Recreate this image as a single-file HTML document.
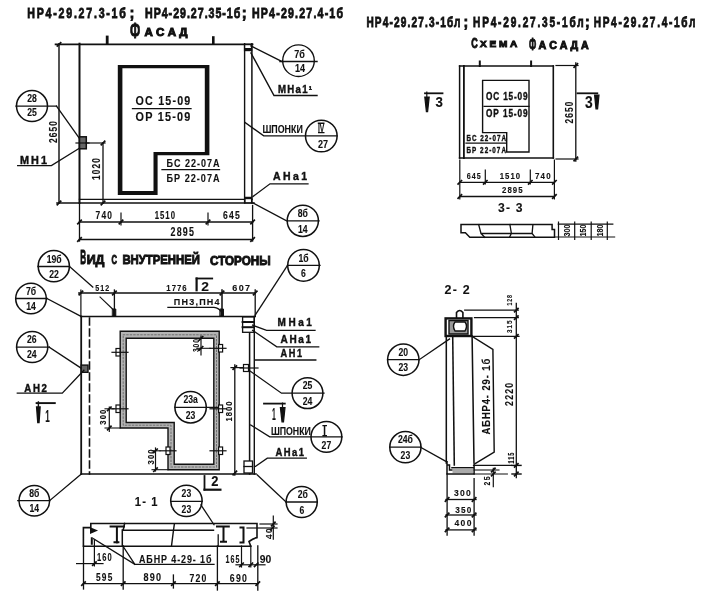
<!DOCTYPE html>
<html><head><meta charset="utf-8">
<style>
html,body{margin:0;padding:0;background:#fff;}
body{width:708px;height:593px;overflow:hidden;}
svg{display:block;will-change:transform;}
text{font-family:"Liberation Sans",sans-serif;font-weight:bold;fill:#111;stroke:#111;stroke-width:0.12px;}
.t{font-size:12px;}
.h{stroke-width:0.95px;}
.h2{stroke-width:0.8px;}
.h3{stroke-width:0.4px;}
</style></head><body>
<svg width="708" height="593" viewBox="0 0 708 593">
<rect width="708" height="593" fill="#fff"/>
<g stroke="#111" fill="none" stroke-linecap="square">
<!-- ================= FACADE (top-left) ================= -->
<g id="facade">
<line x1="55.6" y1="44.4" x2="252.5" y2="44.4" stroke-width="1.8"/>
<line x1="79.5" y1="43.7" x2="79.5" y2="203" stroke-width="2.0"/>
<line x1="244.6" y1="43.7" x2="244.6" y2="203" stroke-width="1.4"/>
<line x1="251.9" y1="43.7" x2="251.9" y2="203" stroke-width="1.5"/>
<line x1="57" y1="203" x2="254" y2="203" stroke-width="1.6"/>
<line x1="79.5" y1="199.4" x2="252" y2="199.4" stroke-width="1.43"/>
<rect x="244.6" y="44.5" width="7" height="6" fill="#fff" stroke-width="1.4"/><rect x="244.3" y="48" width="7.6" height="2.6" fill="#111" stroke="none"/>
<rect x="245" y="197.6" width="6.6" height="5.2" fill="#fff" stroke-width="1.3"/><rect x="244.5" y="196.8" width="7.6" height="2.4" fill="#111" stroke="none"/>
<!-- left dim 2650 -->
<line x1="59" y1="43.7" x2="59" y2="203" stroke-width="1.43"/>


<!-- top ticks -->
<line x1="107.2" y1="37" x2="107.2" y2="43.5" stroke-width="2.8"/>
<line x1="213.3" y1="37.5" x2="213.3" y2="43.5" stroke-width="2.6"/>
<!-- MH1 plate left -->
<rect x="79.5" y="136.8" width="6.8" height="12" fill="#666" stroke-width="1.5"/>
<line x1="76" y1="143" x2="89" y2="143" stroke-width="1.2"/>
<!-- dim 1020 -->
<line x1="86" y1="143" x2="105" y2="143" stroke-width="1.2"/>
<line x1="103" y1="143" x2="103" y2="203" stroke-width="1.31"/>

<!-- window -->
<path d="M117.8,65.1 H209.4 V155.2 H157.6 V195.1 H117.8 Z M122.4,68.2 H204.8 V152.1 H153.5 V191.1 H122.4 Z" fill="#111" fill-rule="evenodd" stroke="none"/>

<line x1="132.5" y1="108.6" x2="191" y2="108.6" stroke-width="1.3"/>
<line x1="162" y1="169.7" x2="219.5" y2="169.7" stroke-width="1.3"/>
<!-- bottom dims -->
<line x1="79.5" y1="203" x2="79.5" y2="241" stroke-width="1.31"/>
<line x1="252.6" y1="205.5" x2="252.6" y2="241" stroke-width="1.31"/>
<line x1="121" y1="213" x2="121" y2="225" stroke-width="1.2"/>
<line x1="208" y1="213" x2="208" y2="225" stroke-width="1.2"/>
<line x1="79.5" y1="222" x2="252.6" y2="222" stroke-width="1.43"/>
<line x1="79.5" y1="239.5" x2="252.6" y2="239.5" stroke-width="1.54"/>
<!-- callouts -->
<circle cx="32" cy="106.1" r="15.5" stroke-width="1.54"/>
<line x1="16" y1="106.1" x2="56.5" y2="106.1" stroke-width="1.31"/>
<polyline points="56.5,106.1 79.2,138" stroke-width="1.31"/>
<polyline points="17.7,165.6 51.4,165.6 79.2,148.3" stroke-width="1.31"/>
<circle cx="298.5" cy="60.7" r="15.8" stroke-width="1.4"/>
<line x1="280" y1="61.5" x2="317" y2="61.5" stroke-width="1.43"/>
<line x1="251" y1="46" x2="282" y2="61.5" stroke-width="1.43"/>
<polyline points="251,53 274,95.5 317,95.5" stroke-width="1.43"/>
<circle cx="321.3" cy="136" r="15.8" stroke-width="1.54"/>
<polyline points="244.8,122.4 263.7,135.8 337,135.8" stroke-width="1.31"/>
<polyline points="308,183.8 270,183.8 253,196.5" stroke-width="1.31"/>
<circle cx="302.8" cy="220.8" r="15.6" stroke-width="1.54"/>
<polyline points="253,203 286.6,220.8 319,220.8" stroke-width="1.31"/>
</g>
</g>
<!-- texts facade -->
<g>
<text class="h2" transform="translate(27.3,18.3) scale(0.72,1)" font-size="14.8" textLength="136.9" lengthAdjust="spacing">НР4-29.27.3-1б</text><text class="h2" x="129.4" y="18.3" font-size="14.8">;</text><text class="h2" transform="translate(145,18.3) scale(0.72,1)" font-size="14.8" textLength="132.4" lengthAdjust="spacing">НР4-29.27.35-1б</text><text class="h2" x="241.7" y="18.3" font-size="14.8">;</text><text class="h2" transform="translate(252,18.3) scale(0.72,1)" font-size="14.8" textLength="126.4" lengthAdjust="spacing">НР4-29.27.4-1б</text>
<text class="h" x="130" y="38.3" font-size="22" textLength="10.2" lengthAdjust="spacingAndGlyphs">Ф</text><text class="h" x="144.6" y="36.1" font-size="10.5" textLength="42.8" lengthAdjust="spacingAndGlyphs">А С А Д</text>
<text transform="translate(57,132) rotate(-90) scale(0.840,1)" text-anchor="middle" font-size="10" textLength="26.2" lengthAdjust="spacing">2650</text>
<text transform="translate(100.4,169) rotate(-90) scale(0.840,1)" text-anchor="middle" font-size="10" textLength="26.2" lengthAdjust="spacing">1020</text>
<text transform="translate(135.6,104.7) scale(0.894,1)" font-size="12" textLength="61.2" lengthAdjust="spacing">ОС 15-09</text>
<text transform="translate(135.6,121.2) scale(0.905,1)" font-size="12" textLength="60.4" lengthAdjust="spacing">ОР 15-09</text>
<text transform="translate(166.6,166.7) scale(0.820,1)" font-size="11" textLength="64.5" lengthAdjust="spacing">БС 22-07А</text>
<text transform="translate(166.6,182) scale(0.827,1)" font-size="11" textLength="64.0" lengthAdjust="spacing">БР 22-07А</text>
<text transform="translate(95.5,218.8) scale(0.840,1)" font-size="10" textLength="19.6" lengthAdjust="spacing">740</text>
<text transform="translate(154.7,218.8) scale(0.776,1)" font-size="10" textLength="26.2" lengthAdjust="spacing">1510</text>
<text transform="translate(222.9,219) scale(0.861,1)" font-size="10" textLength="19.6" lengthAdjust="spacing">645</text>
<text transform="translate(170.6,236) scale(0.742,1)" font-size="12" textLength="31.4" lengthAdjust="spacing">2895</text>
<text transform="translate(32,101.9) scale(0.8,1)" text-anchor="middle" font-size="10.8">28</text>
<text transform="translate(32,116.2) scale(0.8,1)" text-anchor="middle" font-size="10.8">25</text>
<text class="h3" transform="translate(20,164.3) scale(0.988,1)" font-size="11" textLength="27.3" lengthAdjust="spacing">МН1</text>
<text transform="translate(299.5,57.7) scale(0.8,1)" text-anchor="middle" font-size="11.3">7б</text>
<text transform="translate(300,72.4) scale(0.8,1)" text-anchor="middle" font-size="11.3">14</text>
<text class="h3" transform="translate(278,93) scale(0.963,1)" font-size="10" textLength="35.3" lengthAdjust="spacing">МНа1¹</text>
<text x="262.4" y="132.6" font-size="10.5" textLength="40.4" lengthAdjust="spacingAndGlyphs">ШПОНКИ</text>
<text x="321.1" y="131.8" text-anchor="middle" font-size="11.5" textLength="6.4" lengthAdjust="spacingAndGlyphs">IV</text><path d="M317.8,123.2 H324.5 M318,132.6 H324.5" stroke="#111" stroke-width="1.4"/>
<text transform="translate(323,147.5) scale(0.8,1)" text-anchor="middle" font-size="11.3">27</text>
<text class="h3" transform="translate(273,180) scale(1.000,1)" font-size="10.5" textLength="34.0" lengthAdjust="spacing">АНа1</text>
<text transform="translate(302.8,217) scale(0.8,1)" text-anchor="middle" font-size="10.8">8б</text>
<text transform="translate(302.8,232.5) scale(0.8,1)" text-anchor="middle" font-size="10.8">14</text>
</g>

<!-- ================= SCHEMA (top-right) ================= -->
<g stroke="#111" fill="none" stroke-linecap="square">
<line x1="459.6" y1="66" x2="553.3" y2="66" stroke-width="1.5"/>
<line x1="459.6" y1="66" x2="459.6" y2="158" stroke-width="1.5"/>
<line x1="463.9" y1="66" x2="463.9" y2="158" stroke-width="1.8"/>
<line x1="553.3" y1="66" x2="553.3" y2="158" stroke-width="1.6"/>
<line x1="459.6" y1="158" x2="553.3" y2="158" stroke-width="1.6"/>
<line x1="479.8" y1="61.5" x2="479.8" y2="66" stroke-width="2.0"/>
<line x1="531.1" y1="61.5" x2="531.1" y2="66" stroke-width="2.0"/>
<path d="M482.6,80.4 H529 V152 H506.7 V132.6 H482.6 Z" stroke-width="1.4"/>
<line x1="484" y1="106.4" x2="529" y2="106.4" stroke-width="1.2"/>
<line x1="466" y1="143.2" x2="506" y2="143.2" stroke-width="1.2"/>
<!-- right dim 2650 -->
<line x1="556" y1="65.5" x2="578" y2="65.5" stroke-width="1.2"/>
<line x1="556" y1="159" x2="578" y2="159" stroke-width="1.2"/>
<line x1="575.8" y1="63" x2="575.8" y2="161" stroke-width="1.31"/>
<!-- section marks 3 -->
<path d="M425,93.3 H442.5" stroke-width="1.8"/>
<path d="M426.8,92 V96 M424.8,97 L429.2,97 L427.6,111.6 L426.4,111.6 Z" stroke-width="1.2" fill="#111"/>
<path d="M577.5,93.3 H597.3" stroke-width="1.8"/>
<path d="M594.6,95 L599,95 L597.6,108.8 L596,108.8 Z" stroke-width="1.2" fill="#111"/>
<!-- bottom dims -->
<line x1="459.8" y1="160" x2="459.8" y2="199" stroke-width="1.2"/>
<line x1="554.4" y1="160" x2="554.4" y2="199" stroke-width="1.2"/>
<line x1="485.3" y1="170" x2="485.3" y2="184" stroke-width="1.2"/>
<line x1="530.3" y1="170" x2="530.3" y2="184" stroke-width="1.2"/>
<line x1="459.8" y1="182.3" x2="554.4" y2="182.3" stroke-width="1.31"/>
<line x1="459.8" y1="196.5" x2="554.4" y2="196.5" stroke-width="1.31"/>
<!-- section 3-3 profile -->
<path d="M461,224.6 H552.1 V229.5 H554.5 V237.2 H469.8 L465.4,232.8 H461 Z" stroke-width="1.5"/>
<path d="M478.7,224.6 L481,233.5 H532.1 L532.9,224.6 M509.9,224.6 L511.4,233.5 M481,233.5 L484.7,237.2 M511.4,233.5 L509.5,237.2 M532.1,233.5 L535,237.2" stroke-width="1.31"/>
<path d="M558.2,224.2 H612.8 M555,237 H614.6 M558.5,222 V239.5 M574.7,222 V239.5 M591.2,222 V239.5 M607.3,222 V239.5" stroke-width="1.2"/>
</g><g font-size="8.5">
<text transform="translate(569.5,230.6) rotate(-90)" text-anchor="middle" textLength="12" lengthAdjust="spacingAndGlyphs">300</text>
<text transform="translate(586,230.6) rotate(-90)" text-anchor="middle" textLength="12" lengthAdjust="spacingAndGlyphs">150</text>
<text transform="translate(602.5,230.6) rotate(-90)" text-anchor="middle" textLength="12" lengthAdjust="spacingAndGlyphs">180</text>
</g>
<g>
<text class="h2" transform="translate(366.4,27.2) scale(0.72,1)" font-size="14" textLength="130.6" lengthAdjust="spacing">НР4-29.27.3-1бл</text><text class="h2" x="463.5" y="27.2" font-size="14">;</text><text class="h2" transform="translate(473.1,27.2) scale(0.72,1)" font-size="14" textLength="153.5" lengthAdjust="spacing">НР4-29.27.35-1бл</text><text class="h2" x="584.9" y="27.2" font-size="14">;</text><text class="h2" transform="translate(593.7,27.2) scale(0.72,1)" font-size="14" textLength="141.2" lengthAdjust="spacing">НР4-29.27.4-1бл</text>
<text class="h" x="471.3" y="47.6" font-size="14.5" textLength="6.5" lengthAdjust="spacingAndGlyphs">С</text><text class="h" x="480" y="46.9" font-size="9" textLength="37.3" lengthAdjust="spacingAndGlyphs">Х Е М А</text><text class="h" x="529" y="49.8" font-size="17" textLength="7.2" lengthAdjust="spacingAndGlyphs">Ф</text><text class="h" x="538.6" y="49.2" font-size="11" textLength="50" lengthAdjust="spacingAndGlyphs">А С А Д А</text>
<text class="h3" transform="translate(486,99.8) scale(0.8,1)" font-size="10.3" textLength="52" lengthAdjust="spacing">ОС 15-09</text>
<text class="h3" transform="translate(486,117) scale(0.8,1)" font-size="10.3" textLength="52" lengthAdjust="spacing">ОР 15-09</text>
<text class="h3" transform="translate(466.5,140.6) scale(0.7,1)" font-size="9" textLength="56.4" lengthAdjust="spacing">БС 22-07А</text>
<text class="h3" transform="translate(466.5,152.8) scale(0.7,1)" font-size="9" textLength="56.4" lengthAdjust="spacing">БР 22-07А</text>
<text transform="translate(572.8,112.6) rotate(-90) scale(0.840,1)" text-anchor="middle" font-size="10" textLength="26.2" lengthAdjust="spacing">2650</text>
<text x="435.6" y="106.8" font-size="14" textLength="7.4" lengthAdjust="spacingAndGlyphs">3</text>
<text x="585" y="108.3" font-size="16" textLength="7.7" lengthAdjust="spacingAndGlyphs">3</text>
<text transform="translate(466.7,178.5) scale(0.839,1)" font-size="8.5" textLength="16.7" lengthAdjust="spacing">645</text>
<text transform="translate(499.7,178.5) scale(0.912,1)" font-size="8.5" textLength="22.3" lengthAdjust="spacing">1510</text>
<text transform="translate(535,178.5) scale(0.935,1)" font-size="8.5" textLength="16.7" lengthAdjust="spacing">740</text>
<text transform="translate(502,192.7) scale(0.874,1)" font-size="9" textLength="23.6" lengthAdjust="spacing">2895</text>
<text transform="translate(498,212.3) scale(0.933,1)" font-size="13" textLength="26.4" lengthAdjust="spacing">3- 3</text>
</g>

<!-- ================= INNER VIEW (bottom-left) ================= -->
<g stroke="#111" fill="none" stroke-linecap="square">
<!-- panel -->
<line x1="80.9" y1="316.5" x2="255.2" y2="316.5" stroke-width="1.6"/>
<line x1="81.2" y1="316.5" x2="81.2" y2="474" stroke-width="1.8"/>
<line x1="89.5" y1="318" x2="89.5" y2="474" stroke-width="1.6" stroke-dasharray="7,4"/>
<line x1="249.6" y1="332" x2="249.6" y2="474" stroke-width="1.54"/>
<line x1="254.3" y1="316.5" x2="254.3" y2="474" stroke-width="1.4"/>
<line x1="81.2" y1="474" x2="256" y2="474" stroke-width="1.6"/>
<!-- top dims -->
<line x1="78.8" y1="293" x2="255.2" y2="293" stroke-width="1.31"/>
<line x1="80.9" y1="290" x2="80.9" y2="316" stroke-width="1.2"/>
<line x1="114.4" y1="290" x2="114.4" y2="316" stroke-width="1.31"/>
<line x1="222" y1="290" x2="222" y2="316" stroke-width="1.54"/>
<line x1="255.2" y1="290" x2="255.2" y2="316" stroke-width="1.31"/>
<path d="M112.8,309 H115.8 V316 H112.8 Z" fill="#111" stroke-width="0.97"/>
<path d="M220.3,309 H223.5 V316 H220.3 Z" fill="#111" stroke-width="0.97"/>
<path d="M100.1,297.1 L113.7,310.1" stroke-width="1.2"/>
<path d="M167.9,307.3 H214 Q219,308 221.5,312" stroke-width="1.2"/>
<!-- section 2 top -->
<path d="M196.6,290.2 V278.5" stroke-width="2.2"/><path d="M196.6,278.5 H212.2" stroke-width="1.8"/>

<!-- window frame hatched -->
<path d="M120.2,331.3 H219.2 V469.7 H168 V428 H120.2 Z M126.2,338.3 H213.8 V464.3 H174.2 V422.5 H126.2 Z" fill="#b4b4b4" fill-rule="evenodd" stroke="none"/>
<path d="M120.2,331.3 H219.2 V469.7 H168 V428 H120.2 Z" stroke-width="1.4"/>
<path d="M126.2,338.3 H213.8 V464.3 H174.2 V422.5 H126.2 Z" stroke-width="1.4"/>
<path d="M123.2,334.8 H216.5 V467 H171 V425.2 H123.2 Z" stroke-width="0.9" stroke="#666" stroke-dasharray="1.5,2"/>
<!-- bolts -->
<g stroke-width="1.2">
<rect x="116" y="348.5" width="4" height="7.5" fill="#fff"/><line x1="112" y1="352.3" x2="128" y2="352.3"/>
<rect x="116" y="405" width="4" height="7.5" fill="#fff"/><line x1="112" y1="408.8" x2="128" y2="408.8"/>
<rect x="218.6" y="344.5" width="4" height="7.5" fill="#fff"/><line x1="210" y1="348.3" x2="226" y2="348.3"/>
<rect x="218.6" y="405" width="4" height="7.5" fill="#fff"/><line x1="210" y1="408.8" x2="226" y2="408.8"/>
<rect x="218.6" y="447" width="4" height="7.5" fill="#fff"/><line x1="210" y1="450.8" x2="226" y2="450.8"/>
<rect x="166" y="447" width="4" height="7.5" fill="#fff"/><line x1="160" y1="450.8" x2="176" y2="450.8"/>
</g>
<!-- 300 dims -->
<line x1="109.3" y1="407.2" x2="109.3" y2="431.4" stroke-width="1.2"/>
<line x1="105" y1="408.8" x2="114" y2="408.8" stroke-width="1.08"/>
<line x1="105" y1="428" x2="120" y2="428" stroke-width="1.08"/>
<line x1="155.5" y1="448" x2="155.5" y2="471" stroke-width="1.2"/>
<line x1="152" y1="450.8" x2="160" y2="450.8" stroke-width="1.08"/>
<line x1="152" y1="469.7" x2="168" y2="469.7" stroke-width="1.08"/>
<line x1="201" y1="336" x2="201" y2="355" stroke-width="1.2"/>
<line x1="197" y1="348.3" x2="210" y2="348.3" stroke-width="1.08"/>
<!-- 1800 dim -->
<line x1="234.8" y1="365" x2="234.8" y2="475" stroke-width="1.31"/>
<line x1="231" y1="367.6" x2="246" y2="367.6" stroke-width="1.2"/>
<!-- right bolts/plates -->
<rect x="243.5" y="364.5" width="5" height="7" fill="#fff" stroke-width="1.2"/>
<line x1="240" y1="368" x2="258" y2="368" stroke-width="1.2"/>
<g stroke-width="1.31">
<rect x="242.6" y="317" width="11.4" height="15.3" fill="#fff"/>
<line x1="242.6" y1="322" x2="254" y2="322" stroke-width="2"/>
<line x1="242.6" y1="327.2" x2="254" y2="327.2" stroke-width="2"/>
<rect x="244" y="461" width="8.5" height="12" fill="#fff"/>
<line x1="244" y1="466.5" x2="252.5" y2="466.5"/>
</g>
<!-- left plate AH2 -->
<rect x="81.2" y="365.1" width="6.8" height="7.2" fill="#666" stroke-width="1.4"/>
<!-- callouts -->
<circle cx="53.8" cy="266.2" r="15.6" stroke-width="1.54"/>
<line x1="38" y1="266.5" x2="69.5" y2="266.5" stroke-width="1.31"/>
<line x1="69.5" y1="266.5" x2="92.8" y2="287" stroke-width="1.31"/>
<circle cx="31" cy="298.5" r="15.3" stroke-width="1.54"/>
<line x1="15.8" y1="298.5" x2="47" y2="298.5" stroke-width="1.31"/>
<line x1="47" y1="298.5" x2="80.9" y2="316.3" stroke-width="1.31"/>
<circle cx="32.2" cy="347" r="15.6" stroke-width="1.54"/>
<line x1="16.6" y1="347.2" x2="49.4" y2="347.2" stroke-width="1.31"/>
<line x1="49.4" y1="347.2" x2="80.9" y2="368" stroke-width="1.31"/>
<polyline points="17.3,393.2 62.3,393.2 83.9,370.3" stroke-width="1.31"/>
<path d="M36.6,403.1 H54.8" stroke-width="1.9"/>
<path d="M38.4,402 V407 M36.6,407 L40.1,407 L39,422.6 L37.8,422.6 Z" stroke-width="1.4" fill="#111"/>
<circle cx="303.5" cy="265.4" r="15.8" stroke-width="1.54"/>
<line x1="287.5" y1="265.4" x2="320" y2="265.4" stroke-width="1.31"/>
<line x1="287.5" y1="265.4" x2="255.2" y2="315" stroke-width="1.31"/>
<polyline points="315,330.3 266.6,330.3 252.6,325.2" stroke-width="1.31"/>
<polyline points="318.7,346.8 276.8,346.8 252.6,330.3" stroke-width="1.31"/>
<line x1="255.5" y1="360" x2="315.8" y2="360" stroke-width="1.31"/>
<circle cx="307.5" cy="393.2" r="15.4" stroke-width="1.54"/>
<polyline points="249.6,370.7 281.5,393.2 324,393.2" stroke-width="1.31"/>
<path d="M264,403.6 H284.8" stroke-width="1.8"/>
<path d="M282.5,403 V408 M280.4,407.6 L285,407.6 L283.5,421.8 L282,421.8 Z" stroke-width="1.2" fill="#111"/>
<circle cx="326.4" cy="436.9" r="15.4" stroke-width="1.54"/>
<polyline points="250.8,425 269.7,436.9 342,436.9" stroke-width="1.31"/>
<polyline points="306.3,458.1 267.3,458.1 255.5,466.4" stroke-width="1.31"/>
<circle cx="190.6" cy="407.3" r="15.7" stroke-width="1.54"/>
<line x1="174.9" y1="407.3" x2="218" y2="407.3" stroke-width="1.2"/>
<circle cx="34.3" cy="500.7" r="15.3" stroke-width="1.54"/>
<line x1="17.8" y1="500.7" x2="49.6" y2="500.7" stroke-width="1.31"/>
<line x1="49.6" y1="500.7" x2="81.4" y2="474" stroke-width="1.31"/>
<circle cx="186.4" cy="500.9" r="15.7" stroke-width="1.54"/>
<line x1="170.7" y1="501.3" x2="202.1" y2="501.3" stroke-width="1.31"/>
<line x1="201" y1="505" x2="214" y2="524.7" stroke-width="1.31"/>
<circle cx="301.7" cy="502" r="15.6" stroke-width="1.54"/>
<line x1="286.1" y1="502" x2="317.3" y2="502" stroke-width="1.31"/>
<line x1="286.1" y1="502" x2="257.3" y2="475" stroke-width="1.31"/>
<!-- section 2 bottom -->
<path d="M204.5,476 V489.7" stroke-width="1.8"/><path d="M204.5,489.7 H220.4" stroke-width="2.2"/>
</g>
<g>
<text class="h" x="80.2" y="264.1" font-size="20" textLength="5.9" lengthAdjust="spacingAndGlyphs">В</text><text class="h" x="86.7" y="264.3" font-size="13.5" textLength="17.8" lengthAdjust="spacingAndGlyphs">ИД</text><text class="h" x="111.5" y="264.3" font-size="13.5" textLength="5.5" lengthAdjust="spacingAndGlyphs">С</text><text class="h" x="122.4" y="264.4" font-size="13.5" textLength="77.5" lengthAdjust="spacingAndGlyphs">ВНУТРЕННЕЙ</text><text class="h" x="210" y="264.6" font-size="13.5" textLength="60.6" lengthAdjust="spacingAndGlyphs">СТОРОНЫ</text>
<text transform="translate(95.3,290.9) scale(0.792,1)" font-size="9" textLength="17.7" lengthAdjust="spacing">512</text>
<text transform="translate(166.3,290.8) scale(0.861,1)" font-size="9" textLength="23.6" lengthAdjust="spacing">1776</text>
<text transform="translate(232.3,290.9) scale(1.000,1)" font-size="9" textLength="17.7" lengthAdjust="spacing">607</text>
<text transform="translate(173.8,304.8) scale(1.000,1)" font-size="9" textLength="45.8" lengthAdjust="spacing">ПН3,ПН4</text>
<text x="201.3" y="291" font-size="13" textLength="7.7" lengthAdjust="spacingAndGlyphs">2</text>
<text transform="translate(54.2,262.5) scale(0.8,1)" text-anchor="middle" font-size="10.8">19б</text>
<text transform="translate(54,277.8) scale(0.8,1)" text-anchor="middle" font-size="10.8">22</text>
<text transform="translate(31,294.5) scale(0.8,1)" text-anchor="middle" font-size="10.8">7б</text>
<text transform="translate(31,310) scale(0.8,1)" text-anchor="middle" font-size="10.8">14</text>
<text transform="translate(31.8,342.8) scale(0.8,1)" text-anchor="middle" font-size="10.8">26</text>
<text transform="translate(31.8,358.3) scale(0.8,1)" text-anchor="middle" font-size="10.8">24</text>
<text class="h3" transform="translate(24.2,391.5) scale(0.968,1)" font-size="10" textLength="23.5" lengthAdjust="spacing">АН2</text>
<text x="45.3" y="421.8" font-size="17" textLength="4.5" lengthAdjust="spacingAndGlyphs">1</text>
<text transform="translate(303.5,261.5) scale(0.8,1)" text-anchor="middle" font-size="10.8">1б</text>
<text transform="translate(303.5,277) scale(0.8,1)" text-anchor="middle" font-size="10.8">6</text>
<text class="h3" transform="translate(277.6,326) scale(1.000,1)" font-size="10" textLength="34.2" lengthAdjust="spacing">МНа1</text>
<text class="h3" transform="translate(280.6,343.2) scale(1.000,1)" font-size="10" textLength="30.4" lengthAdjust="spacing">АНа1</text>
<text class="h3" transform="translate(280.6,357.2) scale(0.917,1)" font-size="10" textLength="23.5" lengthAdjust="spacing">АН1</text>
<text transform="translate(307.5,389.2) scale(0.8,1)" text-anchor="middle" font-size="10.8">25</text>
<text transform="translate(307.5,404.7) scale(0.8,1)" text-anchor="middle" font-size="10.8">24</text>
<text x="272" y="420.3" font-size="17" textLength="3.8" lengthAdjust="spacingAndGlyphs">1</text>
<text x="270.9" y="434.5" font-size="10.5" textLength="40" lengthAdjust="spacingAndGlyphs">ШПОНКИ</text>
<text x="324.6" y="435.2" text-anchor="middle" font-size="12" textLength="2.6" lengthAdjust="spacingAndGlyphs">I</text><path d="M322.4,425.6 H327 M322.4,435.8 H327" stroke="#111" stroke-width="1.4"/>
<text transform="translate(326.4,448.5) scale(0.8,1)" text-anchor="middle" font-size="10.8">27</text>
<text class="h3" transform="translate(275.6,455.8) scale(0.944,1)" font-size="10" textLength="30.1" lengthAdjust="spacing">АНа1</text>
<text transform="translate(190.6,403.3) scale(0.8,1)" text-anchor="middle" font-size="10.8">23а</text>
<text transform="translate(190.6,418.8) scale(0.8,1)" text-anchor="middle" font-size="10.8">23</text>
<text transform="translate(232.3,411.5) rotate(-90) scale(0.849,1)" text-anchor="middle" font-size="9" textLength="23.6" lengthAdjust="spacing">1800</text>
<text transform="translate(105.5,417.2) rotate(-90) scale(0.848,1)" text-anchor="middle" font-size="9" textLength="17.7" lengthAdjust="spacing">300</text>
<text transform="translate(153.5,457) rotate(-90) scale(0.848,1)" text-anchor="middle" font-size="9" textLength="17.7" lengthAdjust="spacing">300</text>
<text transform="translate(199,345.6) rotate(-90) scale(0.735,1)" text-anchor="middle" font-size="9" textLength="17.7" lengthAdjust="spacing">300</text>
<text transform="translate(34.3,496.7) scale(0.8,1)" text-anchor="middle" font-size="10.8">8б</text>
<text transform="translate(34.3,512.2) scale(0.8,1)" text-anchor="middle" font-size="10.8">14</text>
<text transform="translate(186.4,497) scale(0.8,1)" text-anchor="middle" font-size="10.8">23</text>
<text transform="translate(186.4,512.5) scale(0.8,1)" text-anchor="middle" font-size="10.8">23</text>
<text transform="translate(302.8,498) scale(0.8,1)" text-anchor="middle" font-size="10.8">2б</text>
<text transform="translate(302,513.5) scale(0.8,1)" text-anchor="middle" font-size="10.8">6</text>
<text x="211.3" y="486.3" font-size="14" textLength="7.2" lengthAdjust="spacingAndGlyphs">2</text>
<text transform="translate(134.8,505.8) scale(0.937,1)" font-size="12" textLength="24.3" lengthAdjust="spacing">1- 1</text>
</g>

<!-- ================= SECTION 1-1 ================= -->
<g stroke="#111" fill="none" stroke-linecap="square">
<path d="M90.8,523.5 H257 V537.6 Q254,538 249,541.5 L250.8,546.2 M90.8,523.5 V527.6 H83.4 V546.2 H250.8" stroke-width="1.6"/>
<path d="M123.2,530.2 H213.5" stroke-width="1.43"/>
<path d="M174.4,523.8 L173.5,530.2 L171.5,546" stroke-width="1.4"/>
<path d="M218.2,535 V546" stroke-width="1.3"/>
<path d="M122.3,530 V546 M124.6,523.5 L123.2,530.2" stroke-width="1.5"/>
<!-- brackets -->
<path d="M110.6,526.4 H124 M116.9,526.4 V542.4 M114.5,542.2 H118.4" stroke-width="2.0"/>
<path d="M91,528.6 L95.5,530.5 L91,532.4 Z M91.8,538.3 V543.7" stroke-width="2.0" fill="#111"/>
<path d="M217,526.4 H228.8 M223.5,526.4 V541.8 M221,541.8 H226" stroke-width="2.0"/>
<path d="M240.5,527.5 H243.5 V542.5 H240.5" stroke-width="2.0"/>
<!-- leaders -->
<polyline points="93.6,538.7 134.8,564.4 214,564.4" stroke-width="1.31"/>
<line x1="123.2" y1="546.5" x2="134.8" y2="564.4" stroke-width="1.31"/>
<!-- dims -->
<line x1="94.4" y1="540" x2="94.4" y2="566" stroke-width="1.2"/>
<line x1="76.6" y1="563.6" x2="103" y2="563.6" stroke-width="1.2"/>
<line x1="83.5" y1="546" x2="83.5" y2="589" stroke-width="1.31"/>
<line x1="123.2" y1="546" x2="123.2" y2="589" stroke-width="1.31"/>
<line x1="173.4" y1="575" x2="173.4" y2="588" stroke-width="1.31"/>
<line x1="217.4" y1="546" x2="217.4" y2="590" stroke-width="1.31"/>
<line x1="257.8" y1="546" x2="257.8" y2="590" stroke-width="1.31"/>
<line x1="83.5" y1="583.6" x2="257.8" y2="583.6" stroke-width="1.43"/>
<line x1="241.5" y1="546" x2="241.5" y2="567" stroke-width="1.2"/>
<line x1="250.8" y1="546" x2="250.8" y2="567" stroke-width="1.2"/>
<line x1="236" y1="564.8" x2="265" y2="564.8" stroke-width="1.2"/>
<line x1="273.3" y1="516" x2="273.3" y2="539.2" stroke-width="1.2"/>
<line x1="260" y1="524" x2="277" y2="524" stroke-width="1.2"/>
<line x1="247" y1="528" x2="277" y2="528" stroke-width="1.2"/>
</g>
<g>
<text transform="translate(97,560.8) scale(0.718,1)" font-size="10.5" textLength="20.6" lengthAdjust="spacing">160</text>
<text transform="translate(139,562.8) scale(0.813,1)" font-size="11" textLength="89.2" lengthAdjust="spacing">АБНР 4-29- 1б</text>
<text transform="translate(225.5,562.8) scale(0.648,1)" font-size="11" textLength="21.6" lengthAdjust="spacing">165</text>
<text x="259.8" y="562.8" font-size="11" textLength="11.5" lengthAdjust="spacingAndGlyphs">90</text>
<text transform="translate(271.5,533.7) rotate(-90) scale(0.978,1)" text-anchor="middle" font-size="8.5" textLength="11.1" lengthAdjust="spacing">40</text>
<text transform="translate(96,580.8) scale(0.830,1)" font-size="10" textLength="19.6" lengthAdjust="spacing">595</text>
<text transform="translate(143.4,580.8) scale(0.907,1)" font-size="10" textLength="19.6" lengthAdjust="spacing">890</text>
<text transform="translate(189.4,581.9) scale(0.871,1)" font-size="10" textLength="19.6" lengthAdjust="spacing">720</text>
<text transform="translate(229.8,581.9) scale(0.871,1)" font-size="10" textLength="19.6" lengthAdjust="spacing">690</text>
</g>
<!-- ================= SECTION 2-2 ================= -->
<g stroke="#111" fill="none" stroke-linecap="square">
<path d="M456.5,317.6 V312.5 Q459.7,308.5 462.9,312.5 V317.6" stroke-width="1.6"/>
<rect x="445.6" y="318.4" width="25.8" height="17.6" stroke-width="2.4"/>
<path d="M449,320.5 H468 V334 H449 Z" stroke-width="1.4" fill="#999"/>
<path d="M455,322 H465 Q468,326 465,331 H455 Q452,326 455,322 Z" stroke-width="1.43" fill="#fff"/>
<line x1="446.3" y1="336" x2="446.3" y2="463" stroke-width="1.54"/>
<path d="M452.7,336 L454.3,465" stroke-width="1.54"/>
<path d="M472.1,336 L474,463" stroke-width="1.54"/>
<path d="M472,336.3 L492.9,349.4 L494.2,452 L474.5,464" stroke-width="1.43"/>
<path d="M447,461.7 V473.9 H474.1 V465.1 M447,465.1 H449.5 V470 H452 M452,467.8 H473.4" stroke-width="1.5"/>
<path d="M452.5,468.5 H473 V473 H452.5 Z" fill="#aaa" stroke="none"/>
<!-- dims -->
<line x1="464.7" y1="310.1" x2="518.3" y2="310.1" stroke-width="1.2"/>
<line x1="474.5" y1="317.6" x2="518.3" y2="317.6" stroke-width="1.2"/>
<line x1="472" y1="336.4" x2="519" y2="336.4" stroke-width="1.2"/>
<line x1="516.3" y1="303.5" x2="516.3" y2="477.5" stroke-width="1.31"/>
<line x1="473.5" y1="465.4" x2="511.5" y2="465.4" stroke-width="1.2"/>
<line x1="512" y1="465.4" x2="521" y2="465.4" stroke-width="1.43"/>
<line x1="512" y1="474" x2="521" y2="474" stroke-width="1.43"/>
<line x1="474" y1="470" x2="499" y2="470" stroke-width="1.08"/>
<line x1="474" y1="474" x2="507.4" y2="474" stroke-width="1.08"/>
<line x1="493.3" y1="468.4" x2="493.3" y2="486.6" stroke-width="1.2"/>
<!-- bottom dims -->
<line x1="447.1" y1="474" x2="447.1" y2="535" stroke-width="1.31"/>
<line x1="474.1" y1="478.6" x2="474.1" y2="535" stroke-width="1.31"/>
<line x1="446" y1="499.5" x2="476" y2="499.5" stroke-width="1.31"/>
<line x1="446" y1="515" x2="476" y2="515" stroke-width="1.31"/>
<line x1="446" y1="529.9" x2="476" y2="529.9" stroke-width="1.31"/>
<!-- callouts -->
<circle cx="403.3" cy="359.7" r="15.7" stroke-width="1.54"/>
<line x1="387.6" y1="359.7" x2="419" y2="359.7" stroke-width="1.31"/>
<line x1="419.2" y1="359.7" x2="449.5" y2="339" stroke-width="1.31"/>
<circle cx="405.4" cy="447.2" r="15.6" stroke-width="1.54"/>
<line x1="389.8" y1="447.2" x2="421" y2="447.2" stroke-width="1.31"/>
<line x1="420.6" y1="447.2" x2="446.7" y2="461.8" stroke-width="1.31"/>
</g>
<g>
<text transform="translate(444.5,294) scale(0.956,1)" font-size="13" textLength="26.4" lengthAdjust="spacing">2- 2</text>
<text transform="translate(511.5,300.3) rotate(-90) scale(0.668,1)" text-anchor="middle" font-size="8" textLength="15.7" lengthAdjust="spacing">128</text>
<text transform="translate(511.5,326.8) rotate(-90) scale(0.795,1)" text-anchor="middle" font-size="8" textLength="15.7" lengthAdjust="spacing">315</text>
<text transform="translate(513,394.4) rotate(-90) scale(0.879,1)" text-anchor="middle" font-size="10" textLength="26.2" lengthAdjust="spacing">2220</text>
<text transform="translate(490,396.6) rotate(-90) scale(0.888,1)" text-anchor="middle" font-size="10.5" textLength="85.2" lengthAdjust="spacing">АБНР4- 29- 1б</text>
<text transform="translate(513.5,457.9) rotate(-90) scale(0.682,1)" text-anchor="middle" font-size="8.5" textLength="16.1" lengthAdjust="spacing">115</text>
<text transform="translate(490.2,481) rotate(-90) scale(0.808,1)" text-anchor="middle" font-size="8.5" textLength="11.1" lengthAdjust="spacing">25</text>
<text transform="translate(453.9,496.3) scale(0.900,1)" font-size="9.5" textLength="18.7" lengthAdjust="spacing">300</text>
<text transform="translate(455.2,513.2) scale(0.868,1)" font-size="9.5" textLength="18.7" lengthAdjust="spacing">350</text>
<text transform="translate(454.6,526) scale(0.950,1)" font-size="9" textLength="17.7" lengthAdjust="spacing">400</text>
<text transform="translate(403.3,355.7) scale(0.8,1)" text-anchor="middle" font-size="10.8">20</text>
<text transform="translate(403.3,371.2) scale(0.8,1)" text-anchor="middle" font-size="10.8">23</text>
<text transform="translate(405.4,443.2) scale(0.8,1)" text-anchor="middle" font-size="10.8">24б</text>
<text transform="translate(405.4,458.7) scale(0.8,1)" text-anchor="middle" font-size="10.8">23</text>
</g>
<!-- ticks -->
<g stroke="#111" stroke-width="1.7" fill="none"><path d="M56.7,46.7 L61.3,42.1 M56.7,205.3 L61.3,200.7 M100.7,145.3 L105.3,140.7 M100.7,205.3 L105.3,200.7 M77.2,224.3 L81.8,219.7 M118.7,224.3 L123.3,219.7 M205.7,224.3 L210.3,219.7 M250.3,224.3 L254.9,219.7 M77.2,241.8 L81.8,237.2 M250.3,241.8 L254.9,237.2 M573.5,67.8 L578.1,63.2 M573.5,161.3 L578.1,156.7 M457.5,184.6 L462.1,180.0 M483.0,184.6 L487.6,180.0 M528.0,184.6 L532.6,180.0 M552.1,184.6 L556.7,180.0 M457.5,198.8 L462.1,194.2 M552.1,198.8 L556.7,194.2 M78.6,295.3 L83.2,290.7 M112.1,295.3 L116.7,290.7 M219.7,295.3 L224.3,290.7 M252.9,295.3 L257.5,290.7 M232.5,369.9 L237.1,365.3 M232.5,475.3 L237.1,470.7 M107.0,411.1 L111.6,406.5 M107.0,430.3 L111.6,425.7 M153.2,453.1 L157.8,448.5 M153.2,472.0 L157.8,467.4 M198.7,340.6 L203.3,336.0 M198.7,350.6 L203.3,346.0 M81.2,585.9 L85.8,581.3 M120.9,585.9 L125.5,581.3 M171.1,585.9 L175.7,581.3 M215.1,585.9 L219.7,581.3 M255.5,585.9 L260.1,581.3 M92.1,565.9 L96.7,561.3 M239.2,567.1 L243.8,562.5 M248.5,567.1 L253.1,562.5 M253.9,567.1 L258.5,562.5 M271.0,526.3 L275.6,521.7 M270.0,530.3 L274.6,525.7 M514.0,312.4 L518.6,307.8 M514.0,319.9 L518.6,315.3 M514.0,338.7 L518.6,334.1 M514.0,467.7 L518.6,463.1 M514.0,476.3 L518.6,471.7 M444.8,501.8 L449.4,497.2 M471.8,501.8 L476.4,497.2 M444.8,517.3 L449.4,512.7 M471.8,517.3 L476.4,512.7 M444.8,532.2 L449.4,527.6 M471.8,532.2 L476.4,527.6 M491.0,472.3 L495.6,467.7 M491.0,476.3 L495.6,471.7"/></g>
</svg>
</body></html>
